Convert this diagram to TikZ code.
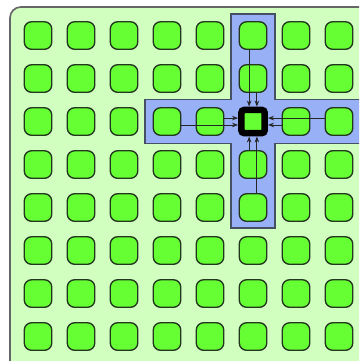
\documentclass[tikz,border=0pt]{standalone}
\usetikzlibrary{arrows.meta}
\definecolor{boardbg}{RGB}{208,255,192}
\definecolor{cellgreen}{RGB}{102,255,51}
\definecolor{celledge}{RGB}{35,55,30}
\definecolor{bandblue}{RGB}{152,176,246}
\definecolor{bandedge}{RGB}{70,80,100}
\begin{document}
\begin{tikzpicture}[x=1cm,y=-1cm,
  cell/.style={draw=celledge,fill=cellgreen,line width=0.9pt,rounded corners=0.17cm,minimum size=0.64cm,inner sep=0pt},
  hub/.style={draw=black,fill=cellgreen,line width=0.155cm,rounded corners=0.07cm,minimum size=0.54cm,inner sep=0pt},
  feed/.style={-{Stealth[length=4pt,width=3pt]},line width=0.6pt,draw=black!85}]
\clip (0,0) rectangle (8.349,8.395);
\draw[draw=black!60,fill=boardbg,line width=1.1pt,rounded corners=0.25cm] (0.233,0.163) rectangle (8.8,8.8);
% cross of neighbours
\draw[draw=bandedge,fill=bandblue,line width=0.7pt]
  (5.372,0.326) -- (6.395,0.326) -- (6.395,2.316) -- (8.8,2.316) -- (8.8,3.336)
  -- (6.395,3.336) -- (6.395,5.302) -- (5.372,5.302) -- (5.372,3.336)
  -- (3.372,3.336) -- (3.372,2.316) -- (5.372,2.316) -- cycle;
% grid of cells
\foreach \i in {1,...,8}
  \foreach \j in {1,...,8}
    \node[cell] (c-\i-\j) at ({0.884+\i-1},{0.826+\j-1}) {};
\node[hub] (hub) at (c-6-3) {};
% arrows into the hub
\draw[feed] ([xshift=-0.09cm]c-6-1.south) -- ([xshift=-0.09cm]hub.north);
\draw[feed] ([xshift=0.09cm]c-6-2.south) -- ([xshift=0.09cm]hub.north);
\draw[feed] ([xshift=0.09cm]c-6-5.north) -- ([xshift=0.09cm]hub.south);
\draw[feed] ([xshift=-0.09cm]c-6-4.north) -- ([xshift=-0.09cm]hub.south);
\draw[feed] ([yshift=-0.08cm]c-4-3.east) -- ([yshift=-0.08cm]hub.west);
\draw[feed] ([yshift=0.08cm]c-5-3.east) -- ([yshift=0.08cm]hub.west);
\draw[feed] ([yshift=0.08cm]c-8-3.west) -- ([yshift=0.08cm]hub.east);
\draw[feed] ([yshift=-0.08cm]c-7-3.west) -- ([yshift=-0.08cm]hub.east);
\end{tikzpicture}
\end{document}
